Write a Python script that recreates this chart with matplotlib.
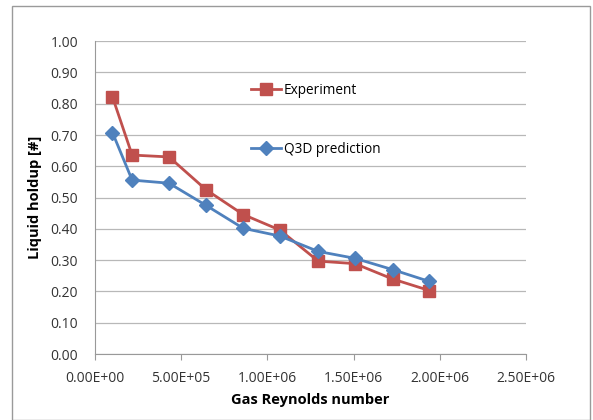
import matplotlib
matplotlib.use("Agg")
import matplotlib.pyplot as plt
from matplotlib.patches import Rectangle

# Gas Reynolds number vs liquid holdup
re_gas = [1.02e5, 2.16e5, 4.30e5, 6.45e5, 8.60e5, 1.074e6, 1.295e6, 1.508e6, 1.726e6, 1.94e6]
holdup_exp = [0.822, 0.636, 0.630, 0.525, 0.446, 0.396, 0.297, 0.289, 0.240, 0.203]
holdup_q3d = [0.708, 0.556, 0.546, 0.475, 0.402, 0.377, 0.328, 0.306, 0.270, 0.232]

xticks = [0, 5e5, 1e6, 1.5e6, 2e6, 2.5e6]
xticklabels = ["0.00E+00", "5.00E+05", "1.00E+06", "1.50E+06", "2.00E+06", "2.50E+06"]
yticks = [i / 10 for i in range(11)]

plt.rcParams["font.family"] = ["Open Sans", "DejaVu Sans"]

fig = plt.figure(figsize=(5.93, 4.2), dpi=100)
fig.patches.append(Rectangle((0.021, 0.0), 0.974, 0.985, transform=fig.transFigure,
                             fill=False, edgecolor="#9a9a9a", linewidth=1.0))
ax = fig.add_axes([0.160, 0.157, 0.727, 0.745])

red = "#C0504D"
blue = "#4F81BD"
ax.plot(re_gas, holdup_exp, color=red, linewidth=2.0, marker="s", markersize=9,
        markeredgecolor=red, label="Experiment", zorder=3)
ax.plot(re_gas, holdup_q3d, color=blue, linewidth=2.0, marker="D", markersize=7,
        markeredgecolor=blue, label="Q3D prediction", zorder=4)

ax.set_xlim(0, 2.5e6)
ax.set_ylim(0, 1.0)
ax.set_xticks(xticks)
ax.set_xticklabels(xticklabels, fontsize=10, color="#333333")
ax.set_yticks(yticks)
ax.set_yticklabels([f"{v:.2f}" for v in yticks], fontsize=10, color="#333333")
ax.grid(axis="y", color="#b8b8b8", linewidth=0.9)
ax.set_axisbelow(True)
for s in ["top", "right"]:
    ax.spines[s].set_visible(False)
ax.spines["left"].set_color("#999999")
ax.spines["bottom"].set_color("#999999")
ax.tick_params(axis="y", length=0, pad=12)
ax.tick_params(axis="x", length=4, color="#999999", pad=8)

ax.set_xlabel("Gas Reynolds number", fontsize=10.5, fontweight="bold", labelpad=5)
ax.set_ylabel("Liquid holdup [#]", fontsize=10.5, fontweight="bold", labelpad=6)

ax.legend(loc="upper left", bbox_to_anchor=(0.333, 0.905), frameon=False,
          fontsize=9.8, labelspacing=3.2, handlelength=2.2, handletextpad=0.25)

plt.savefig("out.png", dpi=100, facecolor="white")
